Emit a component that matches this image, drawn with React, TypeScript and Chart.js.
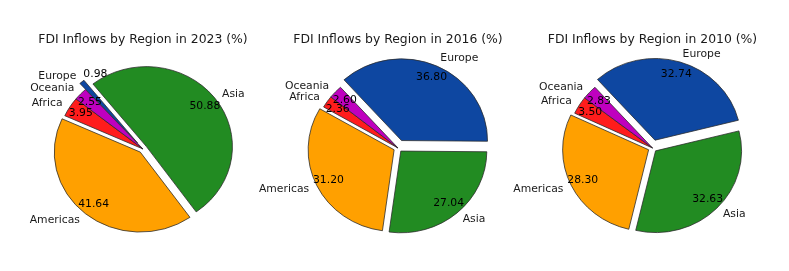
import React, { useEffect, useRef } from "react";
import { Chart, registerables } from "chart.js";

Chart.register(...registerables);

// ---- data ----
const regions = ["Europe", "Asia", "Americas", "Africa", "Oceania"];
const shares2023 = [0.98, 50.88, 41.64, 3.95, 2.55];
const shares2016 = [36.8, 27.04, 31.2, 2.36, 2.6];
const shares2010 = [32.74, 32.63, 28.3, 3.5, 2.83];
const panelYears = ["2023", "2016", "2010"];
const explodeFractions = [0.1, 0.05, 0.05, 0, 0];
const sliceColors = ["#0e47a1", "#228b22", "#ffa000", "#ff1c1c", "#bf00bf"];

// ---- styling / layout ----
const WIDTH = 789;
const HEIGHT = 271;
const RADIUS = 86;
const START_ANGLE = 132; // degrees counter-clockwise from east
const FONT = "'DejaVu Sans', sans-serif";
const LABEL_SIZE = 10.8;
const panelGeometry = [
  { cx: 143, cy: 149, squash: 0.93 },
  { cx: 398, cy: 148, squash: 0.95 },
  { cx: 652.5, cy: 148, squash: 0.95 },
];

const TITLE_TOP = 32.5;
const TITLE_SIZE = 12.4;

const explodedPie = {
  id: "explodedPie",
  beforeDatasetsDraw(chart: any, _args: any, opts: any) {
    const ctx = chart.ctx;
    const k = opts.squash;
    const arcs = chart.getDatasetMeta(0).data;
    arcs.forEach((arc: any, i: number) => {
      const p = arc.getProps(["x", "y", "startAngle", "endAngle", "outerRadius"], true);
      const mid = (p.startAngle + p.endAngle) / 2;
      const shift = explodeFractions[i] * p.outerRadius;
      ctx.save();
      ctx.translate(p.x, p.y);
      ctx.scale(1, k);
      ctx.translate(-p.x + Math.cos(mid) * shift, -p.y + Math.sin(mid) * shift);
      arc.draw(ctx);
      ctx.restore();
    });
    return false;
  },
  afterDraw(chart: any, _args: any, opts: any) {
    const ctx = chart.ctx;
    const k = opts.squash;
    const arcs = chart.getDatasetMeta(0).data;
    const values = chart.data.datasets[0].data as number[];
    const labels = chart.data.labels as string[];
    ctx.save();
    ctx.font = `${LABEL_SIZE}px ${FONT}`;
    ctx.textBaseline = "middle";
    arcs.forEach((arc: any, i: number) => {
      const p = arc.getProps(["x", "y", "startAngle", "endAngle", "outerRadius"], true);
      const mid = (p.startAngle + p.endAngle) / 2;
      const c = Math.cos(mid);
      const s = Math.sin(mid);
      const shift = explodeFractions[i] * p.outerRadius;
      const at = (d: number) => [p.x + c * d, p.y + k * s * d];
      const [lx, ly] = at(1.1 * p.outerRadius + shift);
      ctx.fillStyle = "#1a1a1a";
      ctx.textAlign = c > 0 ? "left" : "right";
      ctx.fillText(labels[i], lx, ly);
      const v = values[i];
      ctx.fillStyle = "#000";
      if (v < 1) {
        ctx.textAlign = "left";
        ctx.fillText(v.toFixed(2), lx + 7, ly - 2);
      } else {
        const [px, py] = at(0.85 * p.outerRadius + shift);
        ctx.textAlign = "center";
        ctx.fillText(v.toFixed(2), px, py);
      }
    });
    ctx.restore();
  },
};

function PiePanel({ year, values, geo }: { year: string; values: number[]; geo: any }) {
  const ref = useRef<HTMLCanvasElement>(null);
  useEffect(() => {
    const padLeft = Math.max(0, 2 * geo.cx - WIDTH);
    const padRight = Math.max(0, WIDTH - 2 * geo.cx);
    const areaTop = TITLE_TOP + TITLE_SIZE * 1.2;
    const padBottom = HEIGHT - (2 * geo.cy - areaTop);
    const chart = new Chart(ref.current as HTMLCanvasElement, {
      type: "pie",
      data: {
        labels: regions,
        datasets: [
          {
            data: values,
            backgroundColor: sliceColors,
            borderColor: "#2a2a2a",
            borderWidth: 0.8,
          },
        ],
      },
      options: {
        responsive: false,
        animation: false,
        devicePixelRatio: 1,
        events: [],
        rotation: 90 - START_ANGLE,
        radius: RADIUS,
        layout: {
          padding: { left: padLeft, right: padRight, top: 0, bottom: padBottom },
        },
        plugins: {
          legend: { display: false },
          tooltip: { enabled: false },
          explodedPie: { squash: geo.squash },
          title: {
            display: true,
            text: `FDI Inflows by Region in ${year} (%)`,
            color: "#1a1a1a",
            font: { family: FONT, size: TITLE_SIZE, weight: "normal" },
            padding: { top: TITLE_TOP, bottom: 0 },
          },
        },
      } as any,
      plugins: [explodedPie],
    });
    return () => chart.destroy();
  }, []);
  return (
    <canvas
      ref={ref}
      width={WIDTH}
      height={HEIGHT}
      style={{ position: "absolute", left: 0, top: 0 }}
    />
  );
}

export default function App() {
  const series = [shares2023, shares2016, shares2010];
  return (
    <div
      style={{
        position: "absolute",
        left: 0,
        top: 0,
        width: WIDTH,
        height: HEIGHT,
        background: "#ffffff",
        overflow: "hidden",
      }}
    >
      {panelYears.map((y, i) => (
        <PiePanel key={y} year={y} values={series[i]} geo={panelGeometry[i]} />
      ))}
    </div>
  );
}
